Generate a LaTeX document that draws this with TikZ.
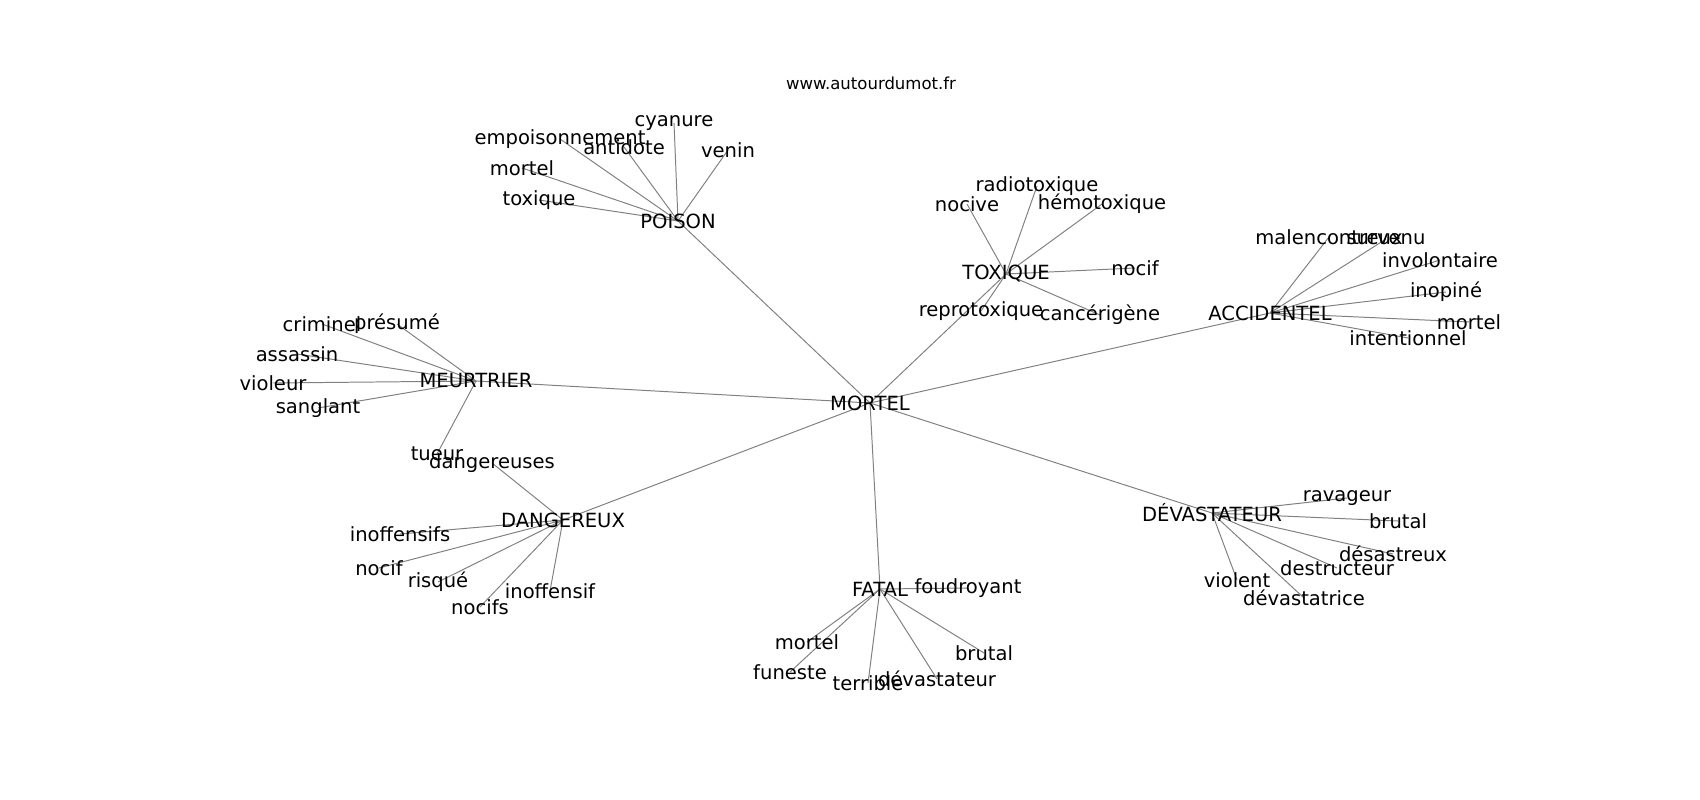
\documentclass[tikz,border=0pt]{standalone}
\usepackage{fontspec}
\setmainfont{DejaVu Sans}
\usetikzlibrary{backgrounds}
\tikzset{
  word/.style={inner sep=0pt, font=\fontsize{13.9}{16}\selectfont},
  link/.style={draw=gray, line width=0.7pt}
}
\begin{document}
\begin{tikzpicture}[x=0.025cm, y=-0.025cm]
      \useasboundingbox (0,0) rectangle (1700,800);
      \node[inner sep=0pt, font=\fontsize{11.75}{13}\selectfont] (site) at (871,83) {www.autourdumot.fr};
      \draw[word]
        (870,403) node (mortel){MORTEL}
        (678,221) node (poison){POISON}
        (674,123) node (p1){cyanure}
        (560,139) node (p2){empoisonnement}
        (624,147) node (p3){antidote}
        (728,150) node (p4){venin}
        (522,168) node (p5){mortel}
        (539,200) node (p6){toxique}
        (1006,274) node (toxique){TOXIQUE}
        (1037,186) node (t1){radiotoxique}
        (967,204) node (t2){nocive}
        (1102,204) node (t3){hémotoxique}
        (1135,268) node (t4){nocif}
        (981,311) node (t5){reprotoxique}
        (1100,315) node (t6){cancérigène}
        (1270,313) node (accidentel){ACCIDENTEL}
        (1329,237) node (a1){malencontreux}
        (1386,239) node (a2){survenu}
        (1440,260) node (a3){involontaire}
        (1446,292) node (a4){inopiné}
        (1469,322) node (a5){mortel}
        (1408,338) node (a6){intentionnel}
        (476,381) node (meurtrier){MEURTRIER}
        (322,324) node (m1){criminel}
        (397,324) node (m2){présumé}
        (297,354) node (m3){assassin}
        (273,383) node (m4){violeur}
        (318,408) node (m5){sanglant}
        (437,454) node (m6){tueur}
        (563,520) node (dangereux){DANGEREUX}
        (492,463) node (d1){dangereuses}
        (400,534) node (d2){inoffensifs}
        (379,568) node (d3){nocif}
        (438,582) node (d4){risqué}
        (550,591) node (d5){inoffensif}
        (480,607) node (d6){nocifs}
        (880,589) node (fatal){FATAL}
        (968,588) node (f1){foudroyant}
        (807,642) node (f2){mortel}
        (790,672) node (f3){funeste}
        (868,683) node (f4){terrible}
        (937,679) node (f5){dévastateur}
        (984,653) node (f6){brutal}
        (1212,513) node (devastateur){DÉVASTATEUR}
        (1347,498) node (v1){ravageur}
        (1398,521) node (v2){brutal}
        (1393,554) node (v3){désastreux}
        (1337,568) node (v4){destructeur}
        (1237,580) node (v5){violent}
        (1304,598) node (v6){dévastatrice};
      \begin{scope}[on background layer]
        \foreach \hub in {poison,toxique,accidentel,meurtrier,dangereux,fatal,devastateur}
          \draw[link] (mortel.center) to (\hub.center);
        \foreach \leaf in {1,...,6} {
          \draw[link] (poison.center) to (p\leaf.center);
          \draw[link] (toxique.center) to (t\leaf.center);
          \draw[link] (accidentel.center) to (a\leaf.center);
          \draw[link] (meurtrier.center) to (m\leaf.center);
          \draw[link] (dangereux.center) to (d\leaf.center);
          \draw[link] (fatal.center) to (f\leaf.center);
          \draw[link] (devastateur.center) to (v\leaf.center);
        }
      \end{scope}
    \end{tikzpicture}
\end{document}
